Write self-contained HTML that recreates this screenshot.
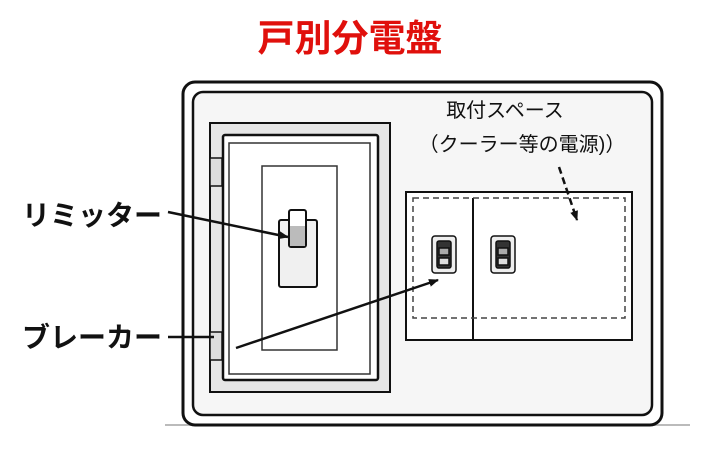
<!DOCTYPE html>
<html><head><meta charset="utf-8"><style>
html,body{margin:0;padding:0;background:#fff;}
svg{display:block;}
text{font-family:"Liberation Sans","Noto Sans CJK JP",sans-serif;}
</style></head><body>
<svg width="701" height="457" viewBox="0 0 701 457" xmlns="http://www.w3.org/2000/svg">
<defs>
<marker id="ah" markerWidth="10" markerHeight="8" refX="9" refY="4" orient="auto" markerUnits="userSpaceOnUse"><path d="M0,0 L10,4 L0,8 z" fill="#111"/></marker>
</defs>
<text x="350" y="51" text-anchor="middle" font-size="37" font-weight="bold" fill="#e0100c">戸別分電盤</text>
<line x1="165" y1="425" x2="690" y2="425" stroke="#bbb" stroke-width="2"/>
<rect x="183" y="82" width="479" height="343" rx="12" fill="#fff" stroke="#111" stroke-width="3"/>
<rect x="193" y="92" width="459" height="323" rx="10" fill="#f6f6f6" stroke="#111" stroke-width="2.5"/>
<!-- door -->
<rect x="210" y="123" width="180" height="269" fill="#e6e6e6" stroke="#111" stroke-width="2"/>
<rect x="210" y="158" width="12" height="28" fill="#ddd" stroke="#111" stroke-width="1.5"/>
<rect x="210" y="332" width="12" height="28" fill="#ddd" stroke="#111" stroke-width="1.5"/>
<rect x="223" y="135" width="155" height="245" rx="2" fill="#fff" stroke="#111" stroke-width="2.5"/>
<rect x="229" y="143" width="141" height="231" fill="#fff" stroke="#333" stroke-width="1.5"/>
<rect x="262" y="166" width="75" height="184" fill="#fff" stroke="#333" stroke-width="1.5"/>
<rect x="279" y="220" width="38" height="67" rx="2" fill="#f0f0f0" stroke="#111" stroke-width="2"/>
<rect x="289" y="210" width="17" height="37" rx="2" fill="#fff" stroke="#111" stroke-width="2"/>
<rect x="290" y="226" width="15" height="20" fill="#bbb"/>
<!-- right panel -->
<rect x="406" y="192" width="226" height="148" fill="#fff" stroke="#111" stroke-width="2"/>
<line x1="473" y1="198" x2="473" y2="340" stroke="#111" stroke-width="2"/>
<rect x="413" y="198" width="212" height="120" fill="none" stroke="#444" stroke-width="1.5" stroke-dasharray="6,4"/>
<g stroke="#111" stroke-width="1.5">
<rect x="432" y="236" width="24" height="37" rx="3" fill="#eee"/>
<rect x="437" y="241" width="14" height="27" rx="2" fill="#333"/>
<rect x="439" y="248" width="10" height="7" fill="#aaa"/>
<rect x="439" y="258" width="10" height="7" fill="#ddd"/>
<rect x="491" y="236" width="24" height="37" rx="3" fill="#eee"/>
<rect x="496" y="241" width="14" height="27" rx="2" fill="#333"/>
<rect x="498" y="248" width="10" height="7" fill="#aaa"/>
<rect x="498" y="258" width="10" height="7" fill="#ddd"/>
</g>
<text x="505" y="117" text-anchor="middle" font-size="20" fill="#111">取付スペース</text>
<text x="522" y="151" text-anchor="middle" font-size="20" fill="#111">（クーラー等の電源)）</text>
<line x1="559" y1="167" x2="577" y2="220" stroke="#111" stroke-width="2.5" stroke-dasharray="7,4" marker-end="url(#ah)"/>
<!-- labels -->
<text x="22" y="225" font-size="28" font-weight="bold" fill="#111">リミッター</text>
<line x1="168" y1="212" x2="288" y2="237" stroke="#111" stroke-width="2.5" marker-end="url(#ah)"/>
<text x="22" y="347" font-size="28" font-weight="bold" fill="#111">ブレーカー</text>
<line x1="168" y1="337" x2="214" y2="337" stroke="#111" stroke-width="2.5"/>
<line x1="236" y1="348" x2="438" y2="280" stroke="#111" stroke-width="2.5" marker-end="url(#ah)"/>
</svg>
</body></html>
